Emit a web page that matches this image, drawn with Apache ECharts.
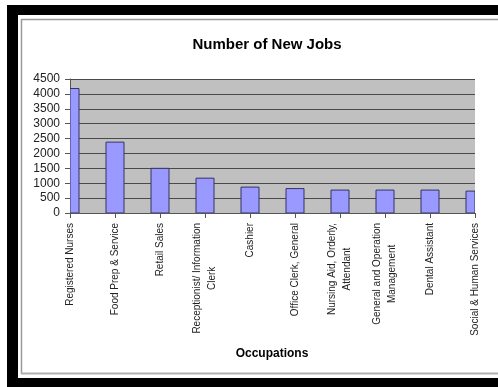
<!DOCTYPE html>
<html>
<head>
<meta charset="utf-8">
<script src="https://cdn.jsdelivr.net/npm/echarts@6/dist/echarts.min.js"></script>
<style>
html,body{margin:0;padding:0;background:#fff;}
#chart{width:498px;height:387px;}
</style>
</head>
<body>
<div id="chart"></div>
<script>
const categories = [
  'Registered Nurses',
  'Food Prep & Service',
  'Retail Sales',
  'Receptionist/ Information\nClerk',
  'Cashier',
  'Office Clerk, General',
  'Nursing Aid, Orderly,\nAttendant',
  'General and Operation\nManagement',
  'Dental Assistant',
  'Social & Human Services'
];
const newJobs = [4180, 2380, 1500, 1170, 870, 820, 770, 770, 770, 735];
const yTicks = { min: 0, max: 4500, interval: 500 };
const titleText = 'Number of New Jobs';
const xAxisTitle = 'Occupations';

const barData = newJobs.map(function (v, i) { return [i, v]; });

const chart = echarts.init(document.getElementById('chart'), null, { renderer: 'canvas' });
chart.setOption({
  animation: false,
  backgroundColor: '#ffffff',
  title: {
    text: titleText,
    left: 262, top: 32, textAlign: 'center',
    textStyle: { fontFamily: 'Arial, Liberation Sans', fontSize: 15, fontWeight: 'bold', color: '#000' }
  },
  graphic: [
    { type: 'rect', shape: { x: 7, y: 5, width: 491, height: 10 }, style: { fill: '#000' } },
    { type: 'rect', shape: { x: 7, y: 5, width: 11, height: 382 }, style: { fill: '#000' } },
    { type: 'rect', shape: { x: 7, y: 378, width: 491, height: 9 }, style: { fill: '#000' } },
    { type: 'line', shape: { x1: 21, y1: 19.5, x2: 498, y2: 19.5 }, style: { stroke: '#9a9a9a', lineWidth: 1.5 } },
    { type: 'line', shape: { x1: 21.5, y1: 19, x2: 21.5, y2: 374 }, style: { stroke: '#9a9a9a', lineWidth: 1.5 } },
    { type: 'line', shape: { x1: 21, y1: 373.5, x2: 498, y2: 373.5 }, style: { stroke: '#b0b0b0', lineWidth: 2 } },
    { type: 'text',
      style: { text: xAxisTitle, x: 272, y: 348, textAlign: 'center', font: 'bold 12px Arial, "Liberation Sans"', fill: '#000' } }
  ],
  grid: { left: 70, top: 79, right: 23, bottom: 174, show: true, backgroundColor: '#c0c0c0', borderWidth: 0 },
  xAxis: {
    type: 'category',
    data: categories,
    boundaryGap: false,
    axisLine: { lineStyle: { color: '#555', width: 1 } },
    axisTick: { show: true, length: 5, inside: false, lineStyle: { color: '#555' } },
    axisLabel: {
      rotate: 90,
      interval: 0,
      margin: 10,
      fontFamily: 'Arial, Liberation Sans',
      fontSize: 10,
      color: '#222',
      lineHeight: 15,
      formatter: function (v) {
        return v.split('\n').map(function (s) { return '{c|' + s + '}'; }).join('\n');
      },
      rich: { c: { align: 'center', fontFamily: 'Arial, Liberation Sans', fontSize: 10, color: '#222', lineHeight: 15 } }
    },
    splitLine: { show: false }
  },
  yAxis: {
    type: 'value',
    min: yTicks.min, max: yTicks.max, interval: yTicks.interval,
    axisLine: { show: true, lineStyle: { color: '#555', width: 1 } },
    axisTick: { show: true, length: 5, lineStyle: { color: '#555' } },
    axisLabel: { margin: 10, fontFamily: 'Arial, Liberation Sans', fontSize: 12, color: '#222',
      formatter: function (v) { return String(v); } },
    splitLine: { show: true, lineStyle: { color: '#4a4a4a', width: 1.2 } }
  },
  series: [{
    type: 'custom',
    data: barData,
    encode: { x: 0, y: 1 },
    clip: true,
    renderItem: function (params, api) {
      const top = api.coord([api.value(0), api.value(1)]);
      const base = api.coord([api.value(0), 0]);
      const w = api.size([1, 0])[0] * 0.4;
      const cs = params.coordSys;
      const rect = echarts.graphic.clipRectByRect(
        { x: top[0] - w / 2, y: top[1], width: w, height: base[1] - top[1] },
        { x: cs.x, y: cs.y, width: cs.width, height: cs.height }
      );
      if (!rect) return null;
      return {
        type: 'rect',
        shape: rect,
        style: { fill: '#9999ff', stroke: '#333366', lineWidth: 1 }
      };
    }
  }]
});
</script>
</body>
</html>
